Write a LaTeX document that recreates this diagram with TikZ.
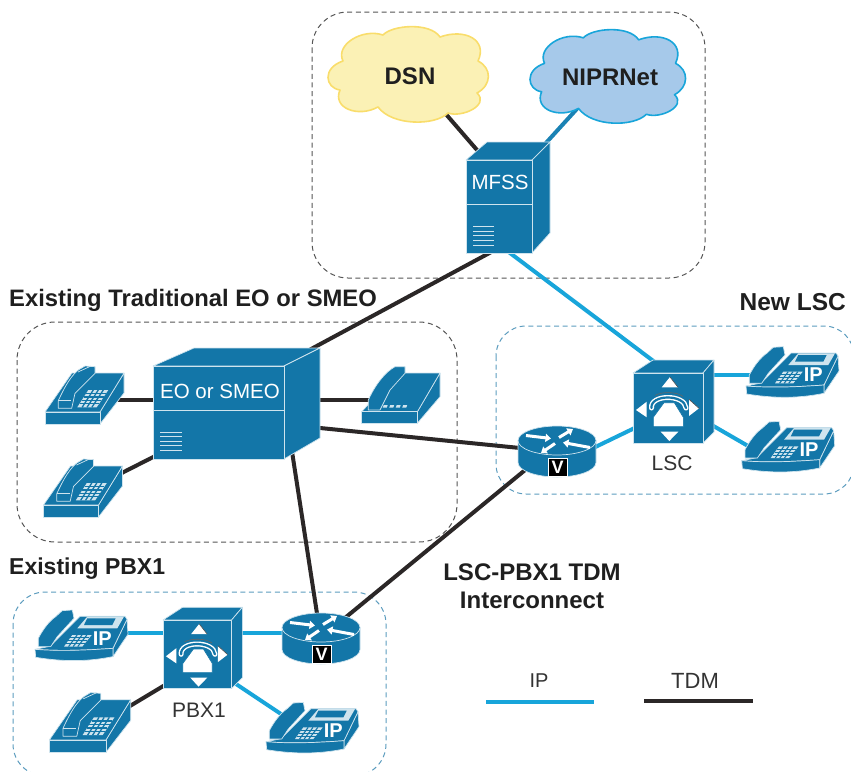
\documentclass[tikz,border=0pt]{standalone}
\usepackage{fontspec}
\setmainfont{Liberation Sans}
\usetikzlibrary{arrows.meta}
\definecolor{ciscoblue}{HTML}{1376A8}
\definecolor{edgeline}{HTML}{CFE4EE}
\definecolor{ipblue}{HTML}{18A5DA}
\definecolor{midblue}{HTML}{1A82B4}
\definecolor{tdmblack}{HTML}{2B2727}
\definecolor{regiongray}{HTML}{555555}
\definecolor{regionblue}{HTML}{5C9CBE}
\definecolor{cloudyellow}{HTML}{FBF1B5}
\definecolor{cloudyellowline}{HTML}{F9DD6B}
\definecolor{cloudblue}{HTML}{A6C9EA}
\newcommand{\fsz}[1]{\fontsize{#1}{#1}\selectfont}
\tikzset{
  region/.style={draw=regiongray,line width=1pt,dash pattern=on 5pt off 3.6pt,rounded corners=#1},
  bluregion/.style={draw=regionblue,line width=1pt,dash pattern=on 5pt off 3.6pt,rounded corners=#1},
  dev/.style={fill=ciscoblue,draw=edgeline,line width=.7pt,line join=round},
  thin line/.style={draw=edgeline,line width=.7pt},
  ipwire/.style={draw=ipblue,line width=4pt},
  tdmwire/.style={draw=tdmblack,line width=4pt},
  boldlabel/.style={inner sep=0pt,font=\fsz{#1}\bfseries,text=black!88},
  plainlabel/.style={inner sep=0pt,font=\fsz{#1},text=black!80},
  boxlabel/.style={inner sep=0pt,font=\fsz{20.5},text=white},
  pics/cloud/.style n args={2}{code={
    \path[fill=#1,draw=#2,line width=1.6pt,line join=round]
      (12,63) .. controls (-3,61) and (-6,41) .. (15,34)
      .. controls (7,18) and (34,1) .. (55,8)
      .. controls (64,-2) and (102,-5) .. (112,10)
      .. controls (137,1) and (160,13) .. (150,34)
      .. controls (164,41) and (164,58) .. (149,66)
      .. controls (162,78) and (134,91) .. (120,86)
      .. controls (107,99) and (64,99) .. (50,80)
      .. controls (30,91) and (4,81) .. (12,63) -- cycle;
  }},
  pics/softswitch/.style={code={
    \path[dev] (0,0) -- (20,-13) -- (81,-13) -- (70,0) -- cycle;
    \path[dev] (70,0) -- (81,-13) -- (81,59) -- (70,70) -- cycle;
    \path[dev] (0,0) rectangle (70,70);
    \fill[white] (37,4) -- (28.7,14.3) -- (45,14.3) -- cycle;
    \fill[white] (36.3,68) -- (27.7,58.7) -- (45.3,58.7) -- cycle;
    \fill[white] (3,37) -- (13.7,28.7) -- (13.7,44.3) -- cycle;
    \fill[white] (66,35.3) -- (56,26.3) -- (56,43) -- cycle;
    \draw[black!70,line width=.6pt] (37,4) -- (45,14.3);
    \draw[black!70,line width=.6pt] (56,26.3) -- (66,35.3);
    \draw[white,line width=5pt,line cap=round] (18.5,35) .. controls (17,21) and (52,21) .. (53,35);
    \draw[ciscoblue,line width=2.2pt,line cap=round] (18.5,35) .. controls (17,21) and (52,21) .. (53,35);
    \draw[black!60,line width=.6pt] (22,22.5) .. controls (28,18.5) and (44,18.5) .. (50,23.5);
    \path[fill=white,draw=ciscoblue,line width=.6pt] (20.3,53.7) -- (50.3,53.7) -- (50.3,44.3) -- (41.3,29.7) -- (31,29.7) -- (20.3,44.3) -- cycle;
  }},
  pics/router/.style={code={
    \path[dev] (-39,0) -- (-39,22) arc[start angle=180,end angle=0,x radius=39,y radius=14.5] -- (39,0) -- cycle;
    \path[dev] (0,0) circle[x radius=39,y radius=14.5];
    \foreach \ax/\ay/\bx/\by in {-31/-5/-6/-2, 33/7/6/2, 2/-3/16/-11.5, -2/3/-16/12.5}
      \draw[white,line width=3pt,-{Triangle[length=5.5pt,width=8pt]}] (\ax,\ay) -- (\bx,\by);
    \path[fill=black,draw=white,line width=.8pt] (-9,18) rectangle (10,36);
    \node[inner sep=0pt,font=\fsz{18}\bfseries,text=white] (-v) at (.5,27) {V};
  }},
  pics/keyphone/.style={code={
    \path[dev] (55,0) -- (79,-39) -- (79,-19) -- (55,12) -- cycle;
    \path[dev] (0,0) -- (55,0) -- (79,-39) -- (27,-39) -- cycle;
    \path[dev] (0,0) rectangle (55,12);
    \path[dev] (13.3,-11.3) .. controls (20,-26) and (26,-36) .. (33.3,-42) -- (40,-46) -- (50,-45.3) -- (50,-38.7) -- (43.3,-32) -- (30,-18.7) -- (26.7,-3.7) -- (13.3,-3.7) -- cycle;
    \draw[thin line] (13.3,-11.3) -- (26,-11.3);
    \draw[thin line] (33,-40) -- (46,-46);
    \path[fill=edgeline] (32.3,-4.7) -- (51.7,-4.7) -- (63.3,-22) -- (43.3,-22) -- cycle;
    \foreach \t in {.2,.4,.6,.8}
      \draw[ciscoblue,line width=1.3pt] ({32.3+11*\t},{-4.7-17.3*\t}) -- ({51.7+11.6*\t},{-4.7-17.3*\t});
    \foreach \t in {.25,.5,.75}
      \draw[ciscoblue,line width=1.3pt] ({32.3+19.4*\t},-4.7) -- ({43.3+20*\t},-22);
  }},
  pics/plainphone/.style={code={
    \path[dev] (55.7,0) -- (78.3,-38.7) -- (78.3,-15) -- (55.7,11.5) -- cycle;
    \path[dev] (0,0) -- (55.7,0) -- (78.3,-38.7) -- (35,-38.7) -- cycle;
    \path[dev] (0,0) rectangle (55.7,11.5);
    \path[dev] (6.6,-11.7) .. controls (14,-28) and (24,-40) .. (33.3,-45) -- (43.3,-45) -- (43.3,-38.4) -- (28.3,-21.7) -- (18.3,-1.7) -- (6.6,-1.7) -- cycle;
    \foreach \x in {21,27.5,34,40.5}
      \path[fill=edgeline] (\x,-4) -- (\x+4,-4) -- (\x+5,-6.5) -- (\x+1,-6.5) -- cycle;
  }},
  pics/ipphone/.style={code={
    \path[dev] (78,-1) -- (92,-30) -- (93,-15) -- (78,7.3) -- cycle;
    \path[dev] (0,0) -- (15,-3) -- (45,-33) -- (90,-33) -- (92,-30) -- (78,-1) .. controls (50,1) and (25,2) .. (0,0) -- cycle;
    \path[dev] (0,0) .. controls (25,2) and (50,1) .. (78,-1) -- (78,7.3) .. controls (50,13) and (25,12) .. (.7,8) -- cycle;
    \path[dev] (3.3,-11) .. controls (8,-20) and (14,-28) .. (20.7,-32.7) -- (27.3,-38.7) -- (37.3,-39.3) -- (39,-31) -- (22.3,-12.7) -- (15.7,-2.7) -- (3.3,-2.7) -- cycle;
    \path[fill=edgeline] (42.3,-21) -- (82.3,-21) -- (89,-32.7) -- (52.3,-32.7) -- cycle;
    \fill[ciscoblue] (49,-24.3) -- (77.3,-24.3) -- (80.7,-31) -- (52.3,-31) -- cycle;
    \path[fill=edgeline] (29,-2.7) -- (47.3,-2.7) -- (56.7,-14.3) -- (37.3,-14.3) -- cycle;
    \foreach \t in {.25,.5,.75}
      \draw[ciscoblue,line width=1.1pt] ({29+8.3*\t},{-2.7-11.6*\t}) -- ({47.3+9.4*\t},{-2.7-11.6*\t});
    \foreach \t in {.25,.5,.75}
      \draw[ciscoblue,line width=1.1pt] ({29+18.3*\t},-2.7) -- ({37.3+19.4*\t},-14.3);
    \node[inner sep=0pt,font=\fsz{20}\bfseries,text=white] (-ip) at (67.3,-11) {IP};
  }},
}
\begin{document}
\begin{tikzpicture}[x=1pt,y=-1pt]
\useasboundingbox (0,0) rectangle (851,771);

% regions
\path[region=36pt] (312,12) rectangle (705,278);
\path[region=38pt] (17,322) rectangle (457,542);
\path[bluregion=30pt] (496,326) rectangle (854,494);
\path[bluregion=32pt] (13,592) rectangle (386,776);

% connector end points (hidden under the devices)
\coordinate (dsnP) at (438,105);
\coordinate (niprP) at (585,100);
\coordinate (mfssA) at (490,165);
\coordinate (mfssB) at (535,155);
\coordinate (mfssC) at (495,250);
\coordinate (mfssD) at (506,250);
\coordinate (eoA) at (300,355);
\coordinate (eoB) at (160,400);
\coordinate (eoC) at (165,451);
\coordinate (eoD) at (310,400);
\coordinate (eoE) at (310,427);
\coordinate (eoF) at (291,445);
\coordinate (phoneTL) at (115,400);
\coordinate (phoneBL) at (110,479);
\coordinate (phoneR) at (375,400);
\coordinate (routerA) at (530,449);
\coordinate (routerB) at (530,466);
\coordinate (routerC) at (585,452);
\coordinate (lscA) at (660,366);
\coordinate (lscB) at (645,423);
\coordinate (lscC) at (710,375);
\coordinate (lscD) at (710,424);
\coordinate (ipA) at (755,375);
\coordinate (ipB) at (755,450);
\coordinate (routerTwoA) at (318,620);
\coordinate (routerTwoB) at (340,622);
\coordinate (routerTwoC) at (290,633);
\coordinate (pbxA) at (170,633);
\coordinate (pbxB) at (170,682);
\coordinate (pbxC) at (235,633);
\coordinate (pbxD) at (230,680);
\coordinate (ipC) at (125,633);
\coordinate (phoneB) at (120,712);
\coordinate (ipD) at (287,718);

% connectors
\draw[tdmwire] (dsnP) -- (mfssA);
\draw[draw=midblue,line width=4pt] (niprP) -- (mfssB);
\draw[tdmwire] (mfssC) -- (eoA);
\draw[ipwire] (mfssD) -- (lscA);
\draw[tdmwire] (eoB) -- (phoneTL);
\draw[tdmwire] (eoC) -- (phoneBL);
\draw[tdmwire] (eoD) -- (phoneR);
\draw[tdmwire] (eoE) -- (routerA);
\draw[tdmwire] (eoF) -- (routerTwoA);
\draw[tdmwire] (routerB) -- (routerTwoB);
\draw[ipwire] (routerC) -- (lscB);
\draw[ipwire] (lscC) -- (ipA);
\draw[ipwire] (lscD) -- (ipB);
\draw[ipwire] (routerTwoC) -- (pbxC);
\draw[ipwire] (ipC) -- (pbxA);
\draw[tdmwire] (phoneB) -- (pbxB);
\draw[ipwire] (pbxD) -- (ipD);

% clouds
\pic (dsncloud) at (328,27) {cloud={cloudyellow}{cloudyellowline}};
\pic[xscale=.97,yscale=.98] (niprcloud) at (530,30) {cloud={cloudblue}{ipblue}};
\node[boldlabel=24] (dsn) at (410,76) {DSN};
\node[boldlabel=24] (nipr) at (610,77) {NIPRNet};

% MFSS server
\path[dev] (466,160) -- (487,142) -- (550,142) -- (532,160) -- cycle;
\path[dev] (532,160) -- (550,142) -- (550,233) -- (532,253) -- cycle;
\path[dev] (466,160) rectangle (532,253);
\draw[thin line,line width=1pt] (466,204) -- (532,204);
\foreach \y in {226,231,235,240,245} \draw[thin line] (473,\y) -- (494,\y);
\node[boxlabel] (mfss) at (500,182) {MFSS};

% EO or SMEO server
\path[dev] (153,366) -- (194,348) -- (320,348) -- (284,366) -- cycle;
\path[dev] (284,366) -- (320,348) -- (320,438) -- (284,459) -- cycle;
\path[dev] (153,366) rectangle (284,459);
\draw[thin line,line width=1pt] (153,410) -- (284,410);
\foreach \y in {432,436,441,445,450} \draw[thin line] (160,\y) -- (182,\y);
\node[boxlabel] (eo) at (220,391) {EO or SMEO};

% phones around EO
\pic (phoneOne) at (45,412) {keyphone};
\pic (phoneTwo) at (43.5,505) {keyphone};
\pic (phoneThree) at (361.7,411.7) {plainphone};

% routers
\pic (routerOne) at (557,440.5) {router};
\pic (routerTwo) at (321,627.5) {router};

% call controllers
\pic (lscbox) at (633,373) {softswitch};
\pic[scale=.98] (pbxbox) at (163,620) {softswitch};
\node[plainlabel=21] (lsc) at (672,463) {LSC};
\node[plainlabel=21] (pbx) at (199,710) {PBX1};

% IP phones and keypad phone
\pic (ipOne) at (746,386) {ipphone};
\pic (ipTwo) at (741.7,460.7) {ipphone};
\pic (ipThree) at (35,649.3) {ipphone};
\pic (ipFour) at (266,741.7) {ipphone};
\pic[scale=1.03] (phoneFour) at (49.3,740) {keyphone};

% headings
\node[boldlabel=23.8,anchor=west] (headEO) at (9,300) {Existing Traditional EO or SMEO};
\node[boldlabel=24.5,anchor=east] (headLSC) at (846,302) {New LSC};
\node[boldlabel=23,anchor=west] (headPBX) at (9,569) {Existing PBX1};
\node[boldlabel=24] (headTDMa) at (532,572) {LSC-PBX1 TDM};
\node[boldlabel=24] (headTDMb) at (532,600) {Interconnect};

% legend
\coordinate (legIPa) at (486,702);
\coordinate (legIPb) at (594,702);
\coordinate (legTDMa) at (644,701);
\coordinate (legTDMb) at (753,701);
\draw[ipwire] (legIPa) -- (legIPb);
\draw[tdmwire] (legTDMa) -- (legTDMb);
\node[plainlabel=20] (legIP) at (539,681) {IP};
\node[plainlabel=22] (legTDM) at (695,681) {TDM};
\end{tikzpicture}
\end{document}
